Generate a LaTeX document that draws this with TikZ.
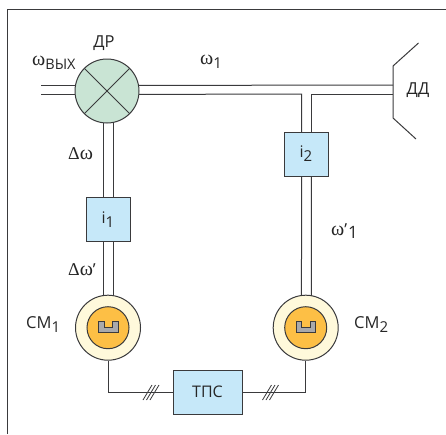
\documentclass[tikz,border=0pt]{standalone}
\usepackage{fontspec}
\setmainfont{Open Sans}
\newfontfamily\grk{Liberation Serif}
\usetikzlibrary{backgrounds,calc}
\definecolor{ln}{HTML}{3A3A3C}
\definecolor{bluebox}{HTML}{C6E8F9}
\definecolor{greenc}{HTML}{C9E4D4}
\definecolor{creamc}{HTML}{FFF9DB}
\definecolor{orangec}{HTML}{FDBF45}
\definecolor{greyc}{HTML}{A9A9AB}
\newcommand{\om}{{\grk\fontsize{20}{20}\selectfont ω}}
\newcommand{\De}{{\grk\fontsize{18}{18}\selectfont Δ}}
\newcommand{\sbs}[1]{\raisebox{-4pt}{\fontsize{15}{15}\selectfont #1}}
\tikzset{
  wire/.style={draw=ln,line width=1pt},
  boxn/.style={draw=ln,line width=1pt,fill=bluebox,minimum width=44pt,minimum height=44pt,inner sep=0pt,text=black!85,font=\fontsize{16}{16}\selectfont},
  lab/.style={inner sep=0pt,text=black!85,font=\fontsize{16.5}{17}\selectfont},
  motorout/.style={circle,draw=ln,line width=1pt,fill=creamc,minimum size=65pt,inner sep=0pt},
  motorin/.style={circle,draw=ln,line width=1pt,fill=orangec,minimum size=42pt,inner sep=0pt},
  slot/.style={draw=ln,line width=0.8pt,fill=greyc}
}
\begin{document}
\begin{tikzpicture}[x=1pt,y=-1pt]
\useasboundingbox (0,0) rectangle (446,434);
% frame
\coordinate (fb) at (7,434); \coordinate (fc) at (7,9); \coordinate (fr) at (446,9);
\draw[draw=ln,line width=1pt] (fb) -- (fc) -- (fr);
% main nodes
\node[circle,draw=ln,line width=1pt,fill=greenc,minimum size=64pt,inner sep=0pt] (dr) at (107,91) {};
\node[boxn] (i1) at (108,219.5) {i\sbs{1}};
\node[boxn] (i2) at (306,154) {i\sbs{2}};
\node[boxn,minimum width=69pt] (tps) at (207.5,392) {ТПС};
\node[motorout] (cm1) at (108,327.7) {};
\node[motorin] (cm1i) at (108,327.7) {};
\node[motorout] (cm2) at (305.7,327.7) {};
\node[motorin] (cm2i) at (305.7,327.7) {};
\coordinate (in) at (41,90);
\coordinate (dd) at (393,90);
\coordinate (ddt) at (393,66);
\coordinate (ddb) at (393,118);
\coordinate (ddte) at (418.5,43);
\coordinate (ddbe) at (416,139);
\coordinate (jn1) at (108,392);
\coordinate (jn2) at (305.7,392);
\begin{scope}[on background layer]
  \draw[wire] ($(in)+(0,-5)$) -- ($(dr)+(0,-6)$);
  \draw[wire] ($(in)+(0,4)$) -- ($(dr)+(0,3)$);
  \draw[wire] ($(dr)+(0,-5.5)$) -- ($(dd)+(0,-5)$);
  \draw[wire] ($(dr)+(0,3.5)$) -- (301.7,94) -- (301.7,132);
  \draw[wire] ($(dd)+(0,4)$) -- (311,94) -- (311,132);
  \draw[wire] ($(i2.south)+(-4.3,0)$) -- ($(cm2.north)+(-4.3,2)$);
  \draw[wire] ($(i2.south)+(5.3,0)$) -- ($(cm2.north)+(5.7,2)$);
  \draw[wire] ($(dr.south)+(-3.5,-2)$) -- ($(i1.north)+(-4.5,0)$);
  \draw[wire] ($(dr.south)+(6,-2)$) -- ($(i1.north)+(5,0)$);
  \draw[wire] ($(i1.south)+(-4.5,0)$) -- ($(cm1.north)+(-4.5,2)$);
  \draw[wire] ($(i1.south)+(5,0)$) -- ($(cm1.north)+(5,2)$);
  \draw[wire] (cm1.south) -- (jn1) -- (tps.west);
  \draw[wire] (cm2.south) -- (jn2) -- (tps.east);
\end{scope}
% mixer cross
\draw[draw=ln,line width=1pt] (dr.45) -- (dr.225) (dr.135) -- (dr.315);
% sensor
\draw[draw=ln,line width=1pt] (ddte) -- (ddt) -- (ddb) -- (ddbe);
% slots
\foreach \c in {cm1i,cm2i}{
  \draw[slot] ($(\c)+(-9.5,-6)$) -- ($(\c)+(-4,-6)$) -- ($(\c)+(-4,-0.5)$) -- ($(\c)+(4.7,-0.5)$) -- ($(\c)+(4.7,-6)$) -- ($(\c)+(10,-6)$) -- ($(\c)+(10,5)$) -- ($(\c)+(-9.5,5)$) -- cycle;
}
% triple ticks
\foreach \d in {0,3.5,7}{
  \draw[draw=ln,line width=0.8pt] ($(jn1)+(35+\d,8)$) -- ($(jn1)+(44+\d,-7)$);
  \draw[draw=ln,line width=0.8pt] ($(tps.east)+(20+\d,8)$) -- ($(tps.east)+(29+\d,-7)$);
}
% labels
\node[lab] (tdr) at (104,43) {ДР};
\node[lab] (tdd) at (418,90) {ДД};
\node[lab,anchor=west] (tw) at (32,63) {\om\raisebox{-4pt}{\fontsize{14.5}{15}\selectfont ВЫХ}};
\node[lab,anchor=west] (tw1) at (200,62) {\om\sbs{1}};
\node[lab,anchor=west] (tdw) at (68,154) {\De\om};
\node[lab,anchor=west] (tdw2) at (68,270) {\De\om'};
\node[lab,anchor=west] (tw2) at (331,231) {\om'\kern1pt\raisebox{-3pt}{\fontsize{17}{17}\selectfont 1}};
\node[lab,anchor=west] (tc1) at (26,325) {СМ\sbs{1}};
\node[lab,anchor=west] (tc2) at (354,325) {СМ\sbs{2}};
\end{tikzpicture}
\end{document}
